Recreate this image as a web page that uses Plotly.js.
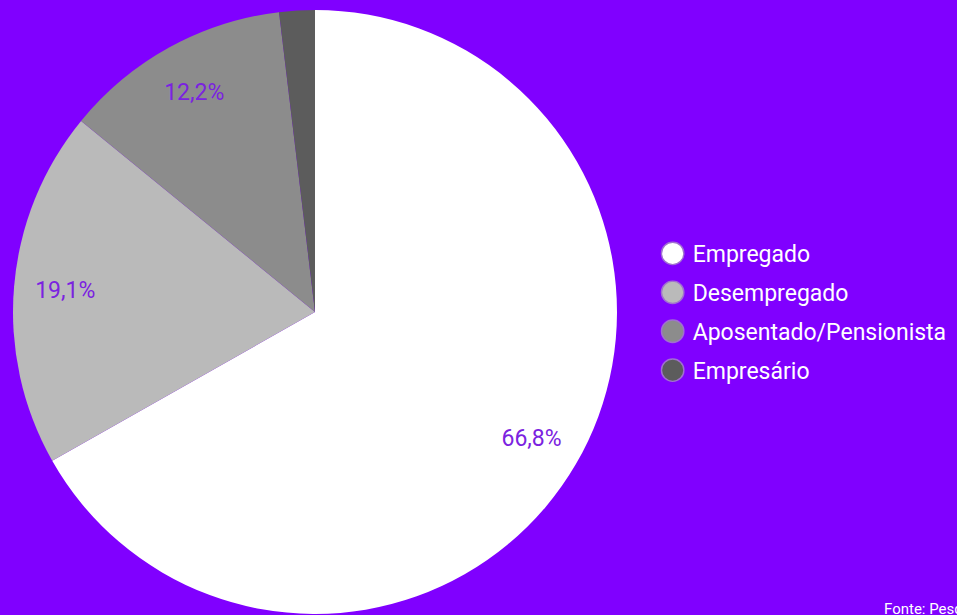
<!DOCTYPE html>
<html>
<head>
<meta charset="utf-8">
<script src="https://cdn.plot.ly/plotly-3.0.1.min.js"></script>
<style>
  html, body { margin: 0; padding: 0; background: #8000ff; }
  #chart { width: 957px; height: 615px; }
</style>
</head>
<body>
<div id="chart"></div>
<script>
const categories = ['Empregado', 'Desempregado', 'Aposentado/Pensionista', 'Empresário'];
const values = [66.8, 19.1, 12.2, 1.9];
const sliceColors = ['#ffffff', '#bababa', '#8c8c8c', '#5c5c5c'];
const labelTexts = ['66,8%', '19,1%', '12,2%', ''];
const sourceText = 'Fonte: Pesquisa';

const bg = '#8000ff';
const labelColor = '#7b22e0';
const font = 'Roboto, "Noto Sans", sans-serif';

const W = 957, H = 615;
const mt = 10, mb = 1;
const R = (H - mt - mb) / 2;
const cx = 315;
const dom = { x: [(cx - R) / W, (cx + R) / W], y: [0, 1] };

const pieBase = {
  type: 'pie',
  labels: categories,
  values: values,
  sort: false,
  direction: 'clockwise',
  rotation: 0,
  domain: dom,
  showlegend: false,
  hoverinfo: 'skip'
};

const traces = [
  Object.assign({}, pieBase, {
    marker: { colors: sliceColors, line: { width: 0 } },
    textinfo: 'none'
  }),
  Object.assign({}, pieBase, {
    hole: 0.66,
    marker: { colors: categories.map(() => 'rgba(0,0,0,0)'), line: { width: 0 } },
    text: labelTexts,
    textinfo: 'text',
    textposition: 'inside',
    insidetextorientation: 'horizontal',
    insidetextfont: { family: font, size: 23, color: labelColor }
  })
];

// legend-only traces with circle markers
categories.forEach((c, i) => {
  traces.push({
    type: 'scatter',
    mode: 'markers',
    x: [null], y: [null],
    name: c,
    legendgroup: 'g' + i,
    marker: { symbol: 'circle', size: 16, color: sliceColors[i], line: { width: 1, color: '#a070d0' } },
    showlegend: true,
    hoverinfo: 'skip'
  });
});

const layout = {
  width: W, height: H,
  paper_bgcolor: bg,
  plot_bgcolor: bg,
  margin: { l: 0, r: 0, t: mt, b: mb },
  xaxis: { visible: false },
  yaxis: { visible: false },
  showlegend: true,
  legend: {
    x: 0.682, y: 0.5, xanchor: 'left', yanchor: 'middle',
    bgcolor: 'rgba(0,0,0,0)',
    font: { family: font, size: 23, color: '#ffffff' },
    tracegroupgap: 6,
    itemwidth: 30
  },
  annotations: [{
    text: sourceText,
    xref: 'paper', yref: 'paper',
    x: 882 / W, y: 0, xanchor: 'left', yanchor: 'bottom',
    yshift: -6,
    showarrow: false,
    font: { family: font, size: 15, color: '#ffffff' }
  }]
};

Plotly.newPlot('chart', traces, layout, { displayModeBar: false, staticPlot: true }).then(() => {
  document.querySelectorAll('.legend .legendpoints path.scatterpts').forEach(p => {
    const t = p.getAttribute('transform') || '';
    p.setAttribute('transform', t + ' scale(1.4)');
  });
});
</script>
</body>
</html>
